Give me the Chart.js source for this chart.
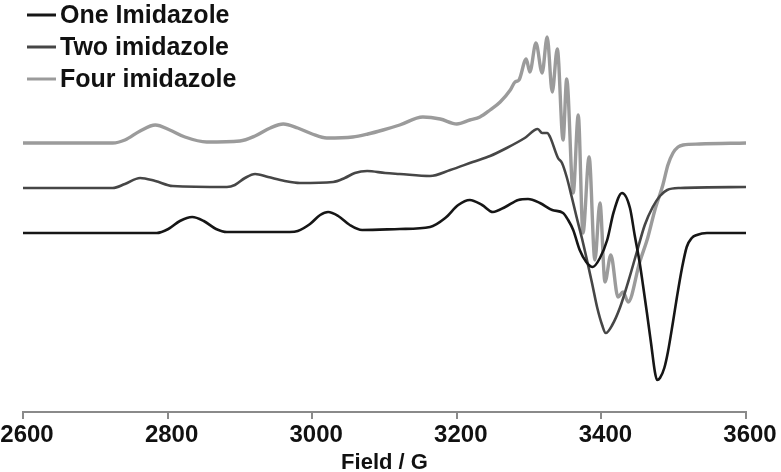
<!DOCTYPE html>
<html>
<head>
<meta charset="utf-8">
<script src="https://cdn.jsdelivr.net/npm/chart.js@4/dist/chart.umd.min.js"></script>
<style>
  body { margin: 0; background: #fff; }
  #wrap { width: 781px; height: 472px; position: relative; }
</style>
</head>
<body>
<div id="wrap"><canvas id="epr"></canvas></div>
<script>
// field (G) and signal (arbitrary units, offset per trace)
const oneField = [2600, 2785, 2801, 2817, 2834, 2850, 2867, 2882, 2969, 2980, 2997, 3011, 3022, 3036, 3052, 3069,
  3121, 3163, 3184, 3202, 3218, 3235, 3250, 3267, 3285, 3298.5, 3315, 3332, 3347, 3354, 3361, 3370, 3379, 3388,
  3398, 3408, 3417, 3428.5, 3439.5, 3446, 3453, 3457.5, 3463, 3469, 3474, 3477, 3481, 3487, 3492, 3499, 3504.5,
  3511.5, 3518, 3525, 3532, 3546, 3600];
const oneSignal = [179, 179, 183, 191, 195, 191, 183, 180, 180, 181, 188, 197, 200, 196, 187, 182,
  183, 185, 194, 207, 212, 207, 200, 205, 212, 213, 209, 202, 199, 192, 182, 162, 150, 145,
  154, 172, 200, 219, 204, 177, 149, 127, 99, 67, 40, 32, 34, 44, 60, 90, 115,
  144, 165, 174, 177, 179, 179];

const twoField = [2600, 2724, 2741, 2762, 2783, 2807, 2882, 2893, 2907, 2921, 2939, 2962, 2983, 3029, 3045, 3059,
  3076, 3101, 3121, 3163, 3191, 3222, 3246, 3269, 3294, 3312, 3318, 3325, 3329, 3340, 3345.5, 3352, 3359,
  3366, 3373, 3380, 3387, 3394, 3401, 3406, 3415, 3426, 3437, 3449, 3460, 3471, 3481, 3491, 3509, 3600];
const twoSignal = [224, 224, 228, 234, 231, 226, 225, 227, 234, 238, 235, 231, 229, 230, 234, 239,
  241, 239, 238, 236, 242, 250, 256, 264, 274, 283, 279, 279, 275, 254, 249, 235, 215,
  194, 174, 152, 129, 105, 87, 79, 87, 105, 130, 160, 187, 205, 216, 222, 224, 225];

const fourField = [2600, 2724, 2741, 2762, 2783, 2803, 2824, 2854, 2900, 2921, 2942, 2960, 2980, 3000, 3020, 3056,
  3077, 3098, 3121, 3153, 3177, 3200, 3218, 3232, 3246, 3260, 3274, 3280.5, 3286, 3296, 3301, 3309.5, 3318,
  3325, 3332, 3339, 3347, 3352, 3361, 3368, 3374.5, 3383, 3391, 3398, 3405, 3413, 3423, 3430, 3437, 3453,
  3464, 3474, 3485, 3492, 3499, 3506, 3513, 3536, 3600];
const fourSignal = [269, 269, 272, 281, 287, 282, 275, 270, 271, 276, 284, 288, 284, 278, 274, 275,
  278, 282, 287, 295, 293, 288, 292, 295, 302, 310, 322, 330, 332, 353, 340, 369, 339,
  375, 320, 363, 272, 333, 219, 297, 179, 255, 152, 209, 130, 157, 115, 120, 110, 150,
  174, 202, 227, 247, 259, 265, 267, 268, 269];

const seriesNames = ['One Imidazole', 'Two imidazole', 'Four imidazole'];
const seriesColors = ['#161616', '#464646', '#9b9b9b'];
const xTicks = [2600, 2800, 3000, 3200, 3400, 3600];

const toPoints = (xs, ys) => xs.map((x, i) => ({ x: x, y: ys[i] }));

const legendPlugin = {
  id: 'sideLegend',
  afterDraw(chart) {
    const ctx = chart.ctx;
    ctx.save();
    chart.data.datasets.forEach((ds, i) => {
      const y = 15 + i * 32;
      ctx.strokeStyle = ds.borderColor;
      ctx.lineWidth = 3;
      ctx.beginPath();
      ctx.moveTo(27, y);
      ctx.lineTo(56, y);
      ctx.stroke();
      ctx.fillStyle = '#111';
      ctx.font = 'bold 25px "Liberation Sans", Arial, sans-serif';
      ctx.textBaseline = 'middle';
      ctx.fillText(ds.label, 60, y + 1);
    });
    ctx.restore();
  }
};

new Chart(document.getElementById('epr'), {
  type: 'line',
  data: {
    datasets: [
      { label: seriesNames[0], data: toPoints(oneField, oneSignal), borderColor: seriesColors[0], borderWidth: 2.6 },
      { label: seriesNames[1], data: toPoints(twoField, twoSignal), borderColor: seriesColors[1], borderWidth: 2.6 },
      { label: seriesNames[2], data: toPoints(fourField, fourSignal), borderColor: seriesColors[2], borderWidth: 3.4 }
    ]
  },
  options: {
    responsive: true,
    maintainAspectRatio: false,
    animation: false,
    layout: { padding: 0 },
    elements: {
      point: { radius: 0 },
      line: { cubicInterpolationMode: 'monotone', fill: false }
    },
    plugins: {
      legend: { display: false },
      tooltip: { enabled: false }
    },
    scales: {
      x: {
        type: 'linear',
        min: 2600,
        max: 3600,
        afterBuildTicks: s => { s.ticks = xTicks.map(v => ({ value: v })); },
        afterFit: s => { s.paddingLeft = 23; s.paddingRight = 35; s.height = 60; },
        grid: { drawOnChartArea: false, color: '#8a8a8a', lineWidth: 2, tickLength: 7 },
        border: { color: '#8a8a8a', width: 2 },
        ticks: {
          color: '#111',
          padding: 2,
          maxRotation: 0,
          labelOffset: 4,
          callback: v => String(v),
          font: { family: '"Liberation Sans", Arial, sans-serif', size: 24, weight: 'bold' }
        },
        title: {
          display: true,
          text: 'Field / G',
          color: '#111',
          padding: { top: 0, bottom: -4 },
          font: { family: '"Liberation Sans", Arial, sans-serif', size: 22, weight: 'bold' }
        }
      },
      y: {
        display: false,
        min: 0,
        max: 412
      }
    }
  },
  plugins: [legendPlugin]
});
</script>
</body>
</html>
